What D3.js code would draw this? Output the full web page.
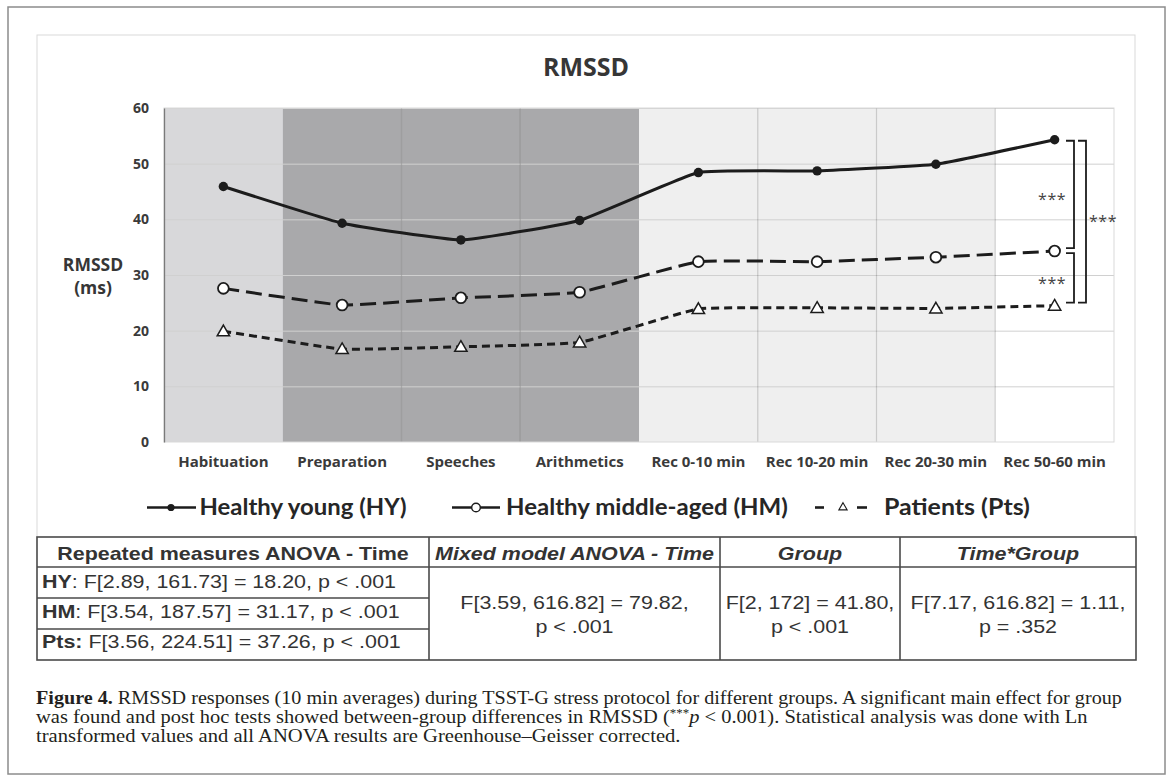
<!DOCTYPE html>
<html>
<head>
<meta charset="utf-8">
<script src="https://cdn.jsdelivr.net/npm/d3@7"></script>
<style>
  body { margin: 0; background: #fff; }
  svg { display: block; }
</style>
</head>
<body>
<div id="chart"></div>
<script>
// ---- data ----
const categories = ["Habituation", "Preparation", "Speeches", "Arithmetics",
  "Rec 0-10 min", "Rec 10-20 min", "Rec 20-30 min", "Rec 50-60 min"];
const phases = ["baseline", "stress", "stress", "stress", "recovery", "recovery", "recovery", "late"];
const hyValues = [45.9, 39.3, 36.3, 39.8, 48.4, 48.7, 49.9, 54.3];
const hmValues = [27.6, 24.6, 25.9, 26.9, 32.4, 32.4, 33.2, 34.3];
const ptsValues = [19.9, 16.7, 17.1, 17.9, 23.9, 24.1, 24.0, 24.5];
const yTicks = [0, 10, 20, 30, 40, 50, 60];
const seriesNames = ["Healthy young (HY)", "Healthy middle-aged (HM)", "Patients (Pts)"];
const sigLabel = "***";

const tableHeader = ["Repeated measures ANOVA - Time", "Mixed model ANOVA - Time", "Group", "Time*Group"];
const repeatedRows = [
  ["HY", ": F[2.89, 161.73] = 18.20, p < .001"],
  ["HM", ": F[3.54, 187.57] = 31.17, p < .001"],
  ["Pts:", " F[3.56, 224.51] = 37.26, p < .001"]
];
const effectCells = [
  ["F[3.59, 616.82] = 79.82,", "p < .001"],
  ["F[2, 172] = 41.80,", "p < .001"],
  ["F[7.17, 616.82] = 1.11,", "p = .352"]
];

const W = 1168, H = 780;
const svg = d3.select("#chart").append("svg").attr("width", W).attr("height", H);

// text helper: draws text at an anchor, then stretches it horizontally
function label(parent, ax, ay, anchor, fit, build) {
  const g = parent.append("g").attr("transform", `translate(${ax},${ay})`);
  const t = g.append("text").attr("text-anchor", anchor);
  build(t);
  let s = fit.scale || 1;
  if (fit.width) s = fit.width / t.node().getComputedTextLength();
  g.attr("transform", `translate(${ax},${ay}) scale(${s},1)`);
  return t;
}

// outer frame and chart area
svg.append("rect").attr("x", 8).attr("y", 7).attr("width", 1157).attr("height", 767)
  .attr("fill", "#fff").attr("stroke", "#8c8c8c").attr("stroke-width", 1.5);
svg.append("rect").attr("x", 37).attr("y", 35).attr("width", 1098).attr("height", 503)
  .attr("fill", "#fff").attr("stroke", "#d9d9d9");

const plot = { left: 164, right: 1114, top: 108, bottom: 442 };
const x = d3.scaleBand().domain(categories).range([plot.left, plot.right]);
const y = d3.scaleLinear().domain([0, 60]).range([plot.bottom, plot.top]);
const cx = d => x(d) + x.bandwidth() / 2;
const phaseFill = { baseline: "#d8d8da", stress: "#a9a9ab", recovery: "#efefef", late: "#ffffff" };

// phase shading
svg.append("g").selectAll("rect").data(categories).join("rect")
  .attr("x", d => x(d)).attr("y", plot.top)
  .attr("width", x.bandwidth()).attr("height", plot.bottom - plot.top)
  .attr("fill", (d, i) => phaseFill[phases[i]]);

// horizontal gridlines
svg.append("g").attr("transform", `translate(${plot.left},0)`)
  .call(d3.axisLeft(y).tickValues(yTicks.slice(1)).tickSize(-(plot.right - plot.left)).tickFormat(""))
  .call(g => g.select(".domain").remove())
  .selectAll("line").attr("stroke", "#d0d0d0");

// vertical dividers between categories
svg.append("g").selectAll("line")
  .data(categories.filter((d, i) => i > 0 && (phases[i] === phases[i - 1] || phases[i] === "late")))
  .join("line")
  .attr("x1", d => x(d)).attr("x2", d => x(d))
  .attr("y1", plot.top).attr("y2", plot.bottom)
  .attr("stroke", "rgba(0,0,0,0.17)").attr("stroke-width", 1.2);

// plot border
svg.append("rect").attr("x", plot.left).attr("y", plot.top)
  .attr("width", plot.right - plot.left).attr("height", plot.bottom - plot.top)
  .attr("fill", "none").attr("stroke", "#d9d9d9");

// y axis
svg.append("g").attr("transform", `translate(${plot.left},0)`)
  .call(d3.axisLeft(y).tickValues(yTicks).tickSize(0).tickSizeOuter(0).tickPadding(15))
  .call(g => g.select(".domain").attr("stroke", "#7a7a7a").attr("stroke-width", 1.3))
  .selectAll("text")
  .attr("font-family", "'Open Sans', sans-serif").attr("font-size", 14)
  .attr("font-weight", "bold").attr("fill", "#3a3a3a");

// x axis
svg.append("g").attr("transform", `translate(0,${plot.bottom})`)
  .call(d3.axisBottom(x).tickSize(0).tickPadding(14))
  .call(g => g.select(".domain").remove())
  .selectAll("text")
  .attr("font-family", "'Open Sans', sans-serif").attr("font-size", 15)
  .attr("font-weight", "bold").attr("fill", "#3a3a3a");

// title and y label
svg.append("text").attr("x", 586).attr("y", 76).attr("text-anchor", "middle")
  .attr("font-family", "'Open Sans', sans-serif").attr("font-size", 25)
  .attr("font-weight", "bold").attr("fill", "#363636").text("RMSSD");
const yTitle = svg.append("text").attr("text-anchor", "middle")
  .attr("font-family", "'Open Sans', sans-serif").attr("font-size", 17.5)
  .attr("font-weight", "bold").attr("fill", "#363636");
yTitle.append("tspan").attr("x", 93).attr("y", 271).text("RMSSD");
yTitle.append("tspan").attr("x", 93).attr("y", 294).text("(ms)");

// series
const ink = "#1c1c1c";
const series = [
  { values: hyValues, dash: null, marker: "dot" },
  { values: hmValues, dash: "16,7", marker: "circle" },
  { values: ptsValues, dash: "8,5", marker: "triangle" }
];
const line = d3.line().x((v, i) => cx(categories[i])).y(v => y(v)).curve(d3.curveCardinal.tension(0.65));
const tri = d3.symbol(d3.symbolTriangle, 66);

series.forEach(s => {
  svg.append("path").attr("d", line(s.values)).attr("fill", "none")
    .attr("stroke", ink).attr("stroke-width", 3)
    .attr("stroke-dasharray", s.dash);
  const g = svg.append("g");
  if (s.marker === "dot") {
    g.selectAll("circle").data(s.values).join("circle")
      .attr("cx", (v, i) => cx(categories[i])).attr("cy", v => y(v)).attr("r", 4.7).attr("fill", ink);
  } else if (s.marker === "circle") {
    g.selectAll("circle").data(s.values).join("circle")
      .attr("cx", (v, i) => cx(categories[i])).attr("cy", v => y(v)).attr("r", 5.4)
      .attr("fill", "#fff").attr("stroke", ink).attr("stroke-width", 1.8);
  } else {
    g.selectAll("path").data(s.values).join("path")
      .attr("d", tri).attr("transform", (v, i) => `translate(${cx(categories[i])},${y(v) + 1})`)
      .attr("fill", "#fff").attr("stroke", ink).attr("stroke-width", 1.5);
  }
});

// significance brackets at the last time point
const last = categories.length - 1;
const yHY = y(hyValues[last]), yHM = y(hmValues[last]), yPts = y(ptsValues[last]);
const brackets = [
  { x: 1074, y1: yHY + 1, y2: yHM - 3, tx: 1066, anchor: "end" },
  { x: 1074, y1: yHM + 2, y2: yPts - 3, tx: 1066, anchor: "end" },
  { x: 1086, y1: yHY + 1, y2: yPts - 3, tx: 1089, anchor: "start" }
];
brackets.forEach((b, k) => {
  svg.append("path")
    .attr("d", `M${b.x - 8},${b.y1}H${b.x}V${b.y2}H${b.x - 8}`)
    .attr("fill", "none").attr("stroke", ink).attr("stroke-width", 1.8);
  const mid = (b.y1 + b.y2) / 2 + (k === 2 ? -4 : 2);
  svg.append("text").attr("x", b.tx).attr("y", mid + 9).attr("text-anchor", b.anchor)
    .attr("font-family", "'Open Sans', sans-serif").attr("font-size", 16)
    .attr("letter-spacing", 0.5).attr("fill", "#444").text(sigLabel);
});

// legend
const legY = 507.5;
const leg = svg.append("g");
leg.append("line").attr("x1", 147).attr("x2", 196).attr("y1", legY).attr("y2", legY)
  .attr("stroke", ink).attr("stroke-width", 2.6);
leg.append("circle").attr("cx", 171).attr("cy", legY).attr("r", 3.6).attr("fill", ink);
leg.append("line").attr("x1", 452).attr("x2", 500).attr("y1", legY).attr("y2", legY)
  .attr("stroke", ink).attr("stroke-width", 2.6);
leg.append("circle").attr("cx", 476).attr("cy", legY).attr("r", 4.3)
  .attr("fill", "#fff").attr("stroke", ink).attr("stroke-width", 1.4);
[[815, 824], [857, 867]].forEach(([a, b]) => {
  leg.append("line").attr("x1", a).attr("x2", b).attr("y1", legY).attr("y2", legY)
    .attr("stroke", ink).attr("stroke-width", 2.6);
});
leg.append("path").attr("d", d3.symbol(d3.symbolTriangle, 30)())
  .attr("transform", `translate(843,${legY})`)
  .attr("fill", "#fff").attr("stroke", ink).attr("stroke-width", 1.1);
const legendText = [[199.5, 207], [506, 282], [884, 146]];
seriesNames.forEach((n, i) => {
  label(leg, legendText[i][0], 515, "start", { width: legendText[i][1] }, t =>
    t.attr("font-family", "Lato, sans-serif").attr("font-size", 23)
      .attr("font-weight", "bold").attr("fill", "#262626").text(n));
});

// statistics table
const cols = [37, 429, 720, 900, 1136];
const rows = [537, 567, 598, 629, 660];
const tbl = svg.append("g");
const tStroke = "#4a4a4a";
tbl.append("rect").attr("x", cols[0]).attr("y", rows[0])
  .attr("width", cols[4] - cols[0]).attr("height", rows[4] - rows[0])
  .attr("fill", "#fff").attr("stroke", tStroke).attr("stroke-width", 1.6);
tbl.append("line").attr("x1", cols[0]).attr("x2", cols[4]).attr("y1", rows[1]).attr("y2", rows[1])
  .attr("stroke", tStroke).attr("stroke-width", 1.6);
[rows[2], rows[3]].forEach(r => tbl.append("line").attr("x1", cols[0]).attr("x2", cols[1])
  .attr("y1", r).attr("y2", r).attr("stroke", tStroke).attr("stroke-width", 1.6));
cols.slice(1, 4).forEach(c => tbl.append("line").attr("x1", c).attr("x2", c)
  .attr("y1", rows[0]).attr("y2", rows[4]).attr("stroke", tStroke).attr("stroke-width", 1.6));

const tFont = t => t.attr("font-family", "'Liberation Sans', Arial, sans-serif")
  .attr("font-size", 18.5).attr("fill", "#333");
const stretch = { scale: 1.16 };
tableHeader.forEach((h, i) => {
  label(tbl, (cols[i] + cols[i + 1]) / 2, 559.5, "middle", stretch, t =>
    tFont(t).attr("font-weight", "bold").attr("font-style", i === 0 ? "normal" : "italic").text(h));
});
repeatedRows.forEach((r, i) => {
  label(tbl, 42, [587.5, 617.5, 647.5][i], "start", stretch, t => {
    tFont(t);
    t.append("tspan").attr("font-weight", "bold").text(r[0]);
    t.append("tspan").text(r[1]);
  });
});
effectCells.forEach((c, i) => {
  const mx = (cols[i + 1] + cols[i + 2]) / 2;
  label(tbl, mx, 609, "middle", stretch, t => tFont(t).text(c[0]));
  label(tbl, mx, 633, "middle", stretch, t => tFont(t).text(c[1]));
});

// caption
const cap = svg.append("g");
const cFont = t => t.attr("font-family", "'Liberation Serif', 'Times New Roman', serif")
  .attr("font-size", 19).attr("fill", "#231f20");
label(cap, 36, 704, "start", { width: 1086 }, t => {
  cFont(t);
  t.append("tspan").attr("font-weight", "bold").text("Figure 4.");
  t.append("tspan").text(" RMSSD responses (10 min averages) during TSST-G stress protocol for different groups. A significant main effect for group");
});
label(cap, 36, 723, "start", { width: 1052 }, t => {
  cFont(t);
  t.append("tspan").text("was found and post hoc tests showed between-group differences in RMSSD (");
  t.append("tspan").attr("font-size", 12).attr("dy", -6).text("***");
  t.append("tspan").attr("font-style", "italic").attr("dy", 6).text("p");
  t.append("tspan").text(" < 0.001). Statistical analysis was done with Ln");
});
label(cap, 36, 742, "start", { width: 645 }, t => {
  cFont(t).text("transformed values and all ANOVA results are Greenhouse\u2013Geisser corrected.");
});
</script>
</body>
</html>
